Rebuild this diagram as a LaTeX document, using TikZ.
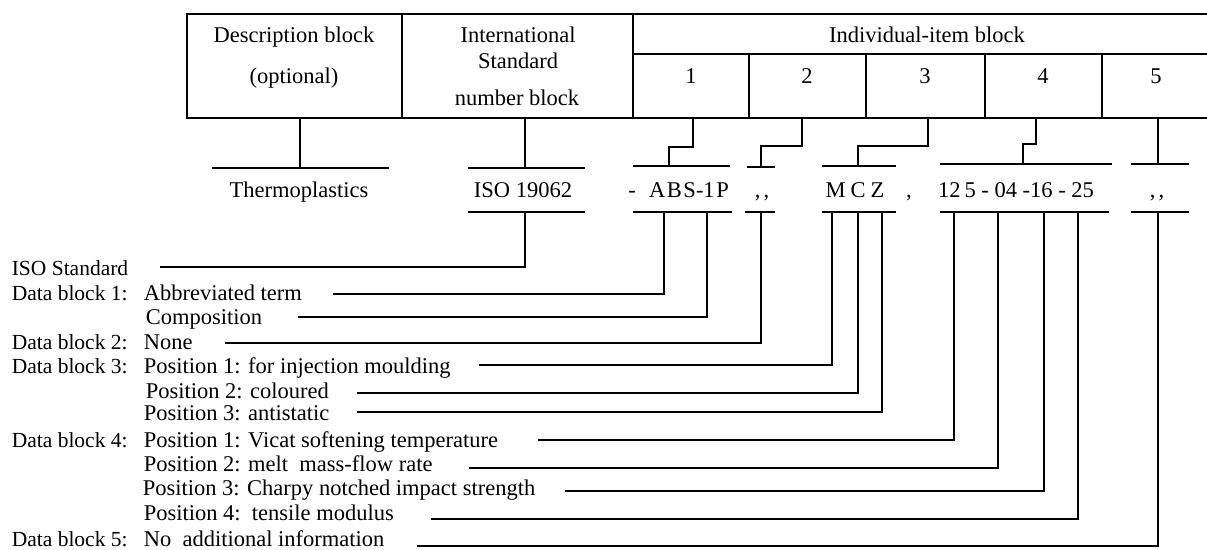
\documentclass[tikz,border=0pt]{standalone}
\usepackage{fontspec}
\setmainfont{Liberation Serif}
\begin{document}
\begin{tikzpicture}[x=1pt,y=-1pt,line width=1.6pt,
  txt/.style={font=\fontsize{22.5}{26}\selectfont,inner sep=0pt,anchor=base},
  lbl/.style={txt,anchor=base west},
  head/.style={lbl,font=\fontsize{21.5}{26}\selectfont},
  tbl/.style={line width=1.9pt},
  link/.style={line width=1.6pt}]
\useasboundingbox (0,0) rectangle (1207,549);
% ---------------- table ----------------
\draw[tbl] (1207,14) -- (187,14) -- (187,118) -- (1207,118);
\draw[tbl] (402,14) -- (402,118);
\draw[tbl] (633,14) -- (633,118);
\draw[tbl] (633,54) -- (1207,54);
\foreach \x in {749,866,985,1102} \draw[tbl] (\x,54) -- (\x,118);
\node[txt] (hdesc) at (294,42) {Description block};
\node[txt] (hopt) at (294,83) {(optional)};
\node[txt] (hint) at (518,42) {International};
\node[txt] (hstd) at (518,68) {Standard};
\node[txt] (hnum) at (517,105) {number block};
\node[txt] (hind) at (927,42) {Individual-item block};
\node[txt] (n1) at (691,83) {1};
\node[txt] (n2) at (807,83) {2};
\node[txt] (n3) at (925,83) {3};
\node[txt] (n4) at (1043,83) {4};
\node[txt] (n5) at (1156,83) {5};
% table bottom anchor points
\coordinate (tD) at (300,118);
\coordinate (tI) at (525,118);
\coordinate (t1) at (693,118);
\coordinate (t2) at (802,118);
\coordinate (t3) at (928,118);
\coordinate (t4) at (1036,118);
\coordinate (t5) at (1158,118);
% ---------------- upper bars ----------------
\coordinate (uD) at (300,168);
\coordinate (uI) at (525,168);
\coordinate (u1) at (669,166);
\coordinate (u2) at (761,167);
\coordinate (u3) at (858,166);
\coordinate (u4) at (1023,164);
\coordinate (u5) at (1158,164);
\draw[link] (212,168) -- (389,168);
\draw[link] (468,168) -- (585,168);
\draw[link] (633,166) -- (730,166);
\draw[link] (747,167) -- (775,167);
\draw[link] (822,166) -- (896,166);
\draw[link] (940,164) -- (1112,164);
\draw[link] (1131,164) -- (1189,164);
\draw[link] (tD) -- (uD);
\draw[link] (tI) -- (uI);
\draw[link] (t1) -- (693,147) -| (u1);
\draw[link] (t2) -- (802,146) -| (u2);
\draw[link] (t3) -- (928,146) -| (u3);
\draw[link] (t4) -- (1036,144) -| (u4);
\draw[link] (t5) -- (u5);
% ---------------- middle row text ----------------
\node[txt] (thermo) at (299,197) {Thermoplastics};
\node[txt] (iso) at (523,197) {ISO 19062};
\node[txt] (dash) at (632,197) {-};
\node[txt] (abs) at (689,197) {A\kern1.5pt B\kern1.5pt S-1\kern1.5pt P};
\node[txt] (c2) at (762,197) {,\kern3pt,};
\node[txt] (mcz) at (855,197) {M\kern5pt C\kern5pt Z};
\node[txt] (c3) at (909,197) {,};
\node[txt] (num) at (1016,197) {12\kern4pt 5 - 04 -16 - 25};
\node[txt] (c5) at (1157,197) {,\kern3pt,};
% ---------------- lower bars ----------------
\draw[link] (468,212) -- (585,212);
\draw[link] (633,212) -- (732,212);
\draw[link] (745,212) -- (775,212);
\draw[link] (822,212) -- (896,212);
\draw[link] (940,212) -- (1109,212);
\draw[link] (1131,212) -- (1189,212);
% ---------------- labels ----------------
\node[head] (lISO) at (11,275) {ISO Standard};
\node[head] (lD1) at (11,300) {Data block 1:};
\node[lbl] (lAbb) at (143,300) {Abbreviated term};
\node[lbl] (lComp) at (145,324) {Composition};
\node[head] (lD2) at (11,349) {Data block 2:};
\node[lbl] (lNone) at (143,349) {None};
\node[head] (lD3) at (11,373) {Data block 3:};
\node[lbl] (lInj) at (143,373) {Position 1: for injection moulding};
\node[lbl] (lCol) at (145,398) {Position 2: coloured};
\node[lbl] (lAnti) at (143,420) {Position 3: antistatic};
\node[head] (lD4) at (11,447) {Data block 4:};
\node[lbl] (lVic) at (143,447) {Position 1: Vicat softening temperature};
\node[lbl] (lMelt) at (143,471) {Position 2: melt\ \ mass-flow rate};
\node[lbl] (lCha) at (142,495) {Position 3: Charpy notched impact strength};
\node[lbl] (lTen) at (143,520) {Position 4:\ \ tensile modulus};
\node[head] (lD5) at (11,546) {Data block 5:};
\node[lbl] (lNo) at (143,546) {No\ \ additional information};
% ---------------- leader lines ----------------
\coordinate (eISO) at (160,267);
\coordinate (eAbb) at (333,294);
\coordinate (eComp) at (298,317);
\coordinate (eNone) at (225,343);
\coordinate (eInj) at (479,365);
\coordinate (eCol) at (357,393);
\coordinate (eAnti) at (357,412);
\coordinate (eVic) at (538,440);
\coordinate (eMelt) at (469,468);
\coordinate (eCha) at (565,491);
\coordinate (eTen) at (431,519);
\coordinate (eNo) at (417,546);
\draw[link] (525,212) |- (eISO);
\draw[link] (664,212) |- (eAbb);
\draw[link] (707,212) |- (eComp);
\draw[link] (761,212) |- (eNone);
\draw[link] (832,212) |- (eInj);
\draw[link] (858,212) |- (eCol);
\draw[link] (882,212) |- (eAnti);
\draw[link] (954,212) |- (eVic);
\draw[link] (998,212) |- (eMelt);
\draw[link] (1044,212) |- (eCha);
\draw[link] (1078,212) |- (eTen);
\draw[link] (1158,212) |- (eNo);
\end{tikzpicture}
\end{document}
